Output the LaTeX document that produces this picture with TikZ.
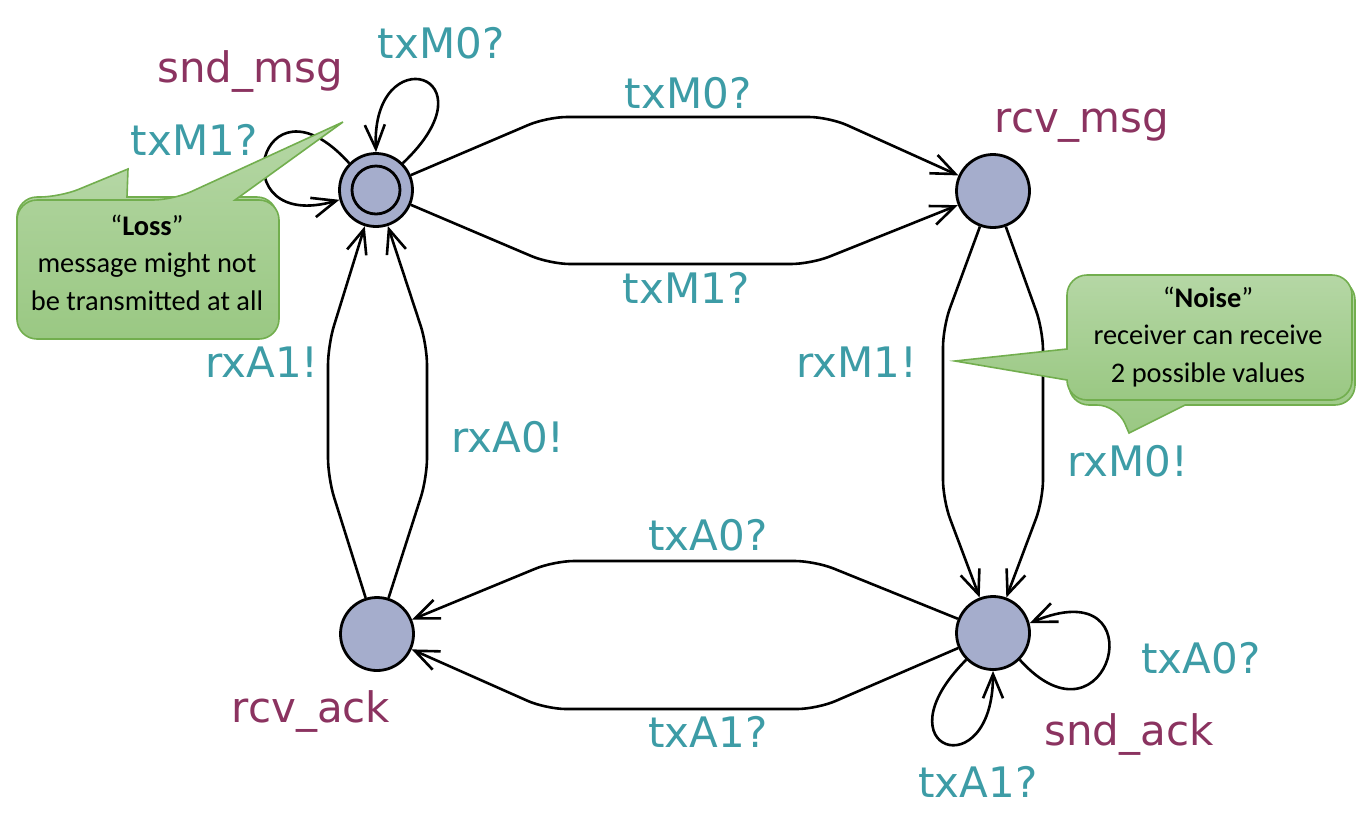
\documentclass[tikz,border=0pt]{standalone}
\usepackage{fontspec}
\setmainfont{DejaVu Sans}
\newfontfamily\notefont{Carlito}
\usetikzlibrary{arrows.meta}
\definecolor{stategray}{HTML}{A5ADCC}
\definecolor{guard}{HTML}{3D9CA6}
\definecolor{locname}{HTML}{8B3360}
\definecolor{notetop}{HTML}{B5D7A5}
\definecolor{notebot}{HTML}{9AC883}
\definecolor{noteline}{HTML}{72AE4E}

\begin{document}
\begin{tikzpicture}[x=0.5pt, y=-0.5pt,
    state/.style={circle, draw, line width=1.4pt, fill=stategray, minimum size=36.5pt, inner sep=0pt},
    edge/.style={-{Straight Barb[length=12pt,width=10pt]}, line width=1.3pt, rounded corners=10pt},
    sync/.style={font=\fontsize{21}{25}\selectfont, text=guard, anchor=base, inner sep=0pt},
    loc/.style={font=\fontsize{21}{25}\selectfont, text=locname, anchor=base, inner sep=0pt},
    note/.style={top color=notetop, bottom color=notebot, draw=noteline, line width=0.8pt},
    notetxt/.style={font=\notefont\fontsize{14.2}{18.75}\selectfont, align=center, anchor=base, inner sep=0pt}
]
\useasboundingbox (0,0) rectangle (1364,820);

% Locations
\node[state] (sndmsg) at (376,190) {};
\node[state] (rcvmsg) at (993,191) {};
\node[state] (sndack) at (993,633) {};
\node[state] (rcvack) at (377,634) {};
\node[circle, draw, line width=1.4pt, minimum size=24pt, inner sep=0pt] (init) at (sndmsg) {};

% Location names
\node[loc] (lsndmsg) at (250,82) {snd\_msg};
\node[loc] (lrcvmsg) at (1082,132) {rcv\_msg};
\node[loc] (lrcvack) at (311,722) {rcv\_ack};
\node[loc] (lsndack) at (1129,745) {snd\_ack};

% Transitions
\draw[edge] (sndmsg) -- (547,117) -- (829,117) -- (rcvmsg);
\draw[edge] (sndmsg) -- (550,264) -- (811,264) -- (rcvmsg);
\draw[edge] (rcvmsg) -- (943,327) -- (943,500) -- (sndack);
\draw[edge] (rcvmsg) -- (1043,330) -- (1043,500) -- (sndack);
\draw[edge] (sndack) -- (815,561) -- (554,561) -- (rcvack);
\draw[edge] (sndack) -- (817,709) -- (546,709) -- (rcvack);
\draw[edge] (rcvack) -- (328,478) -- (328,345) -- (sndmsg);
\draw[edge] (rcvack) -- (427,478) -- (427,345) -- (sndmsg);

% Self loops
\draw[edge] (sndmsg.45) .. controls +(95,-90) and +(-5,-115) .. (sndmsg.north);
\draw[edge] (sndmsg.135) .. controls +(-90,-100) and +(-120,35) .. (sndmsg.195);
\draw[edge] (sndack.-45) .. controls +(90,100) and +(130,-55) .. (sndack.15);
\draw[edge] (sndack.225) .. controls +(-90,90) and +(0,118) .. (sndack.south);

% Synchronisations
\node[sync] (s1) at (441,58) {txM0?};
\node[sync] (s2) at (194,155) {txM1?};
\node[sync] (s3) at (688,108) {txM0?};
\node[sync] (s4) at (686,303) {txM1?};
\node[sync] (s5) at (857,377) {rxM1!};
\node[sync] (s6) at (1128,476) {rxM0!};
\node[sync] (s7) at (262,377) {rxA1!};
\node[sync] (s8) at (508,452) {rxA0!};
\node[sync] (s9) at (708,550) {txA0?};
\node[sync] (s10) at (708,747) {txA1?};
\node[sync] (s11) at (1201,673) {txA0?};
\node[sync] (s12) at (978,797) {txA1?};

% Callouts
\shadedraw[note] (17,270) [rounded corners=10pt] |- (60,197) [sharp corners] -- (128,169) -- (127,197)
  [rounded corners=10pt] -| (277,336) -| (17,270) -- cycle;
\shadedraw[note] (17,270) [rounded corners=10pt] |- (173,200) [sharp corners] -- (343,122) -- (235,200)
  [rounded corners=10pt] -| (279,339) -| (17,270) -- cycle;
\node[notetxt] (loss) at (147,310) {\char"201C\textbf{Loss}\char"201D\\message might not\\be transmitted at all};

\shadedraw[note] (1069,340) [rounded corners=10pt] |- (1117,405) [sharp corners] -- (1129,433) -- (1185,405)
  [rounded corners=10pt] -| (1355,280) -| (1069,340) -- cycle;
\shadedraw[note] (1067,320) -- (1067,349) [sharp corners] -- (955,361) -- (1067,380)
  [rounded corners=10pt] |- (1352,400) |- (1067,275) -- (1067,320) -- cycle;
\node[notetxt] (noise) at (1208,382) {\char"201C\textbf{Noise}\char"201D\\receiver can receive\\2 possible values};

\end{tikzpicture}
\end{document}
